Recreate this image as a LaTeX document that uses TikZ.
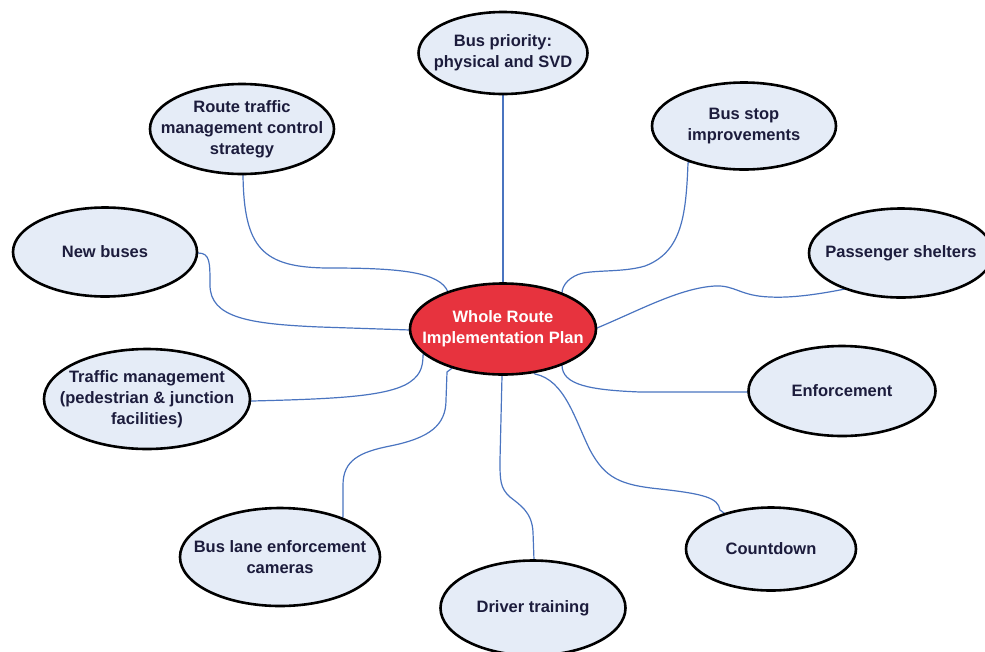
\documentclass[tikz,border=0pt]{standalone}
\usepackage{fontspec}
\setmainfont{Liberation Sans}
\usetikzlibrary{shapes.geometric,backgrounds}
\definecolor{bubfill}{HTML}{E5ECF7}
\definecolor{hubfill}{HTML}{E7333E}
\definecolor{txtcol}{HTML}{1C1C3C}
\definecolor{linkcol}{HTML}{4A74C0}
\tikzset{
  lab/.style={align=center, text=txtcol, inner sep=0pt, font=\fontsize{16.5}{21}\selectfont\bfseries},
  hublab/.style={lab, text=white},
  bub/.style={ellipse, draw=black, line width=2.6pt, fill=bubfill, inner sep=0pt},
  hub/.style={bub, fill=hubfill},
  link/.style={draw=linkcol, line width=1.2pt}
}
\begin{document}
\begin{tikzpicture}[x=1pt,y=-1pt]
\useasboundingbox (0,0) rectangle (985,651);
\node[hub, minimum width=186pt, minimum height=91pt, label={[hublab]center:{Whole Route\\Implementation Plan}}] (c) at (503,329) {};
\node[bub, minimum width=169pt, minimum height=82pt, label={[lab]center:{Bus priority:\\physical and SVD}}] (bp) at (503,53) {};
\node[bub, minimum width=184pt, minimum height=90pt, label={[lab]center:{Route traffic\\management control\\strategy}}] (rt) at (242,129) {};
\node[bub, minimum width=184pt, minimum height=87pt, label={[lab]center:{Bus stop\\improvements}}] (bs) at (744,126) {};
\node[bub, minimum width=184pt, minimum height=89pt, label={[lab]center:{New buses}}] (nb) at (105,252) {};
\node[bub, minimum width=184pt, minimum height=89pt, label={[lab]center:{Passenger shelters}}] (ps) at (901,253) {};
\node[bub, minimum width=187pt, minimum height=90pt, label={[lab]center:{Enforcement}}] (en) at (842,391) {};
\node[bub, minimum width=206pt, minimum height=100pt, label={[lab]center:{Traffic management\\(pedestrian \& junction\\facilities)}}] (tm) at (147,399) {};
\node[bub, minimum width=200pt, minimum height=98pt, label={[lab]center:{Bus lane enforcement\\cameras}}] (bl) at (280,557) {};
\node[bub, minimum width=185pt, minimum height=95pt, label={[lab]center:{Driver training}}] (dt) at (533,608) {};
\node[bub, minimum width=170pt, minimum height=83pt, label={[lab]center:{Countdown}}] (cd) at (771,549) {};
\begin{pgfonlayer}{background}
\draw[link] (bp.center) -- (c.center);
\draw[link] (rt.center) -- (243,175) .. controls (244,248) and (262,268) .. (330,268)
  .. controls (400,268) and (440,272) .. (448,292) -- (c.center);
\draw[link] (nb.center) -- (198,253) .. controls (210,253) and (210,262) .. (210,285)
  .. controls (210,318) and (250,324) .. (320,327) -- (410,330) -- (c.center);
\draw[link] (tm.center) -- (252,401) .. controls (330,399) and (380,397) .. (405,385)
  .. controls (420,377) and (423,368) .. (423,355) -- (c.center);
\draw[link] (bl.center) -- (343,517) -- (343,485) .. controls (343,460) and (360,452) .. (390,446)
  .. controls (430,438) and (446,425) .. (446,400) -- (447,372) -- (c.center);
\draw[link] (dt.center) -- (534,560) -- (533,532) .. controls (532,512) and (520,505) .. (510,497)
  .. controls (500,488) and (500,480) .. (500,460) -- (502,376) -- (c.center);
\draw[link] (c.center) -- (535,374) .. controls (565,380) and (575,420) .. (590,450)
  .. controls (605,478) and (620,485) .. (660,489) .. controls (705,494) and (718,498) .. (720,510) -- (cd.center);
\draw[link] (en.center) -- (748,392) -- (640,392) .. controls (590,390) and (562,385) .. (562,365) -- (c.center);
\draw[link] (ps.center) -- (845,289) .. controls (815,295) and (790,298) .. (770,297)
  .. controls (740,296) and (735,285) .. (715,286) .. controls (680,288) and (640,310) .. (597,328) -- (c.center);
\draw[link] (bs.center) -- (688,163) .. controls (686,215) and (682,252) .. (645,266)
  .. controls (625,272) and (600,270) .. (583,273) .. controls (570,276) and (562,285) .. (562,293) -- (c.center);
\end{pgfonlayer}
\end{tikzpicture}
\end{document}
